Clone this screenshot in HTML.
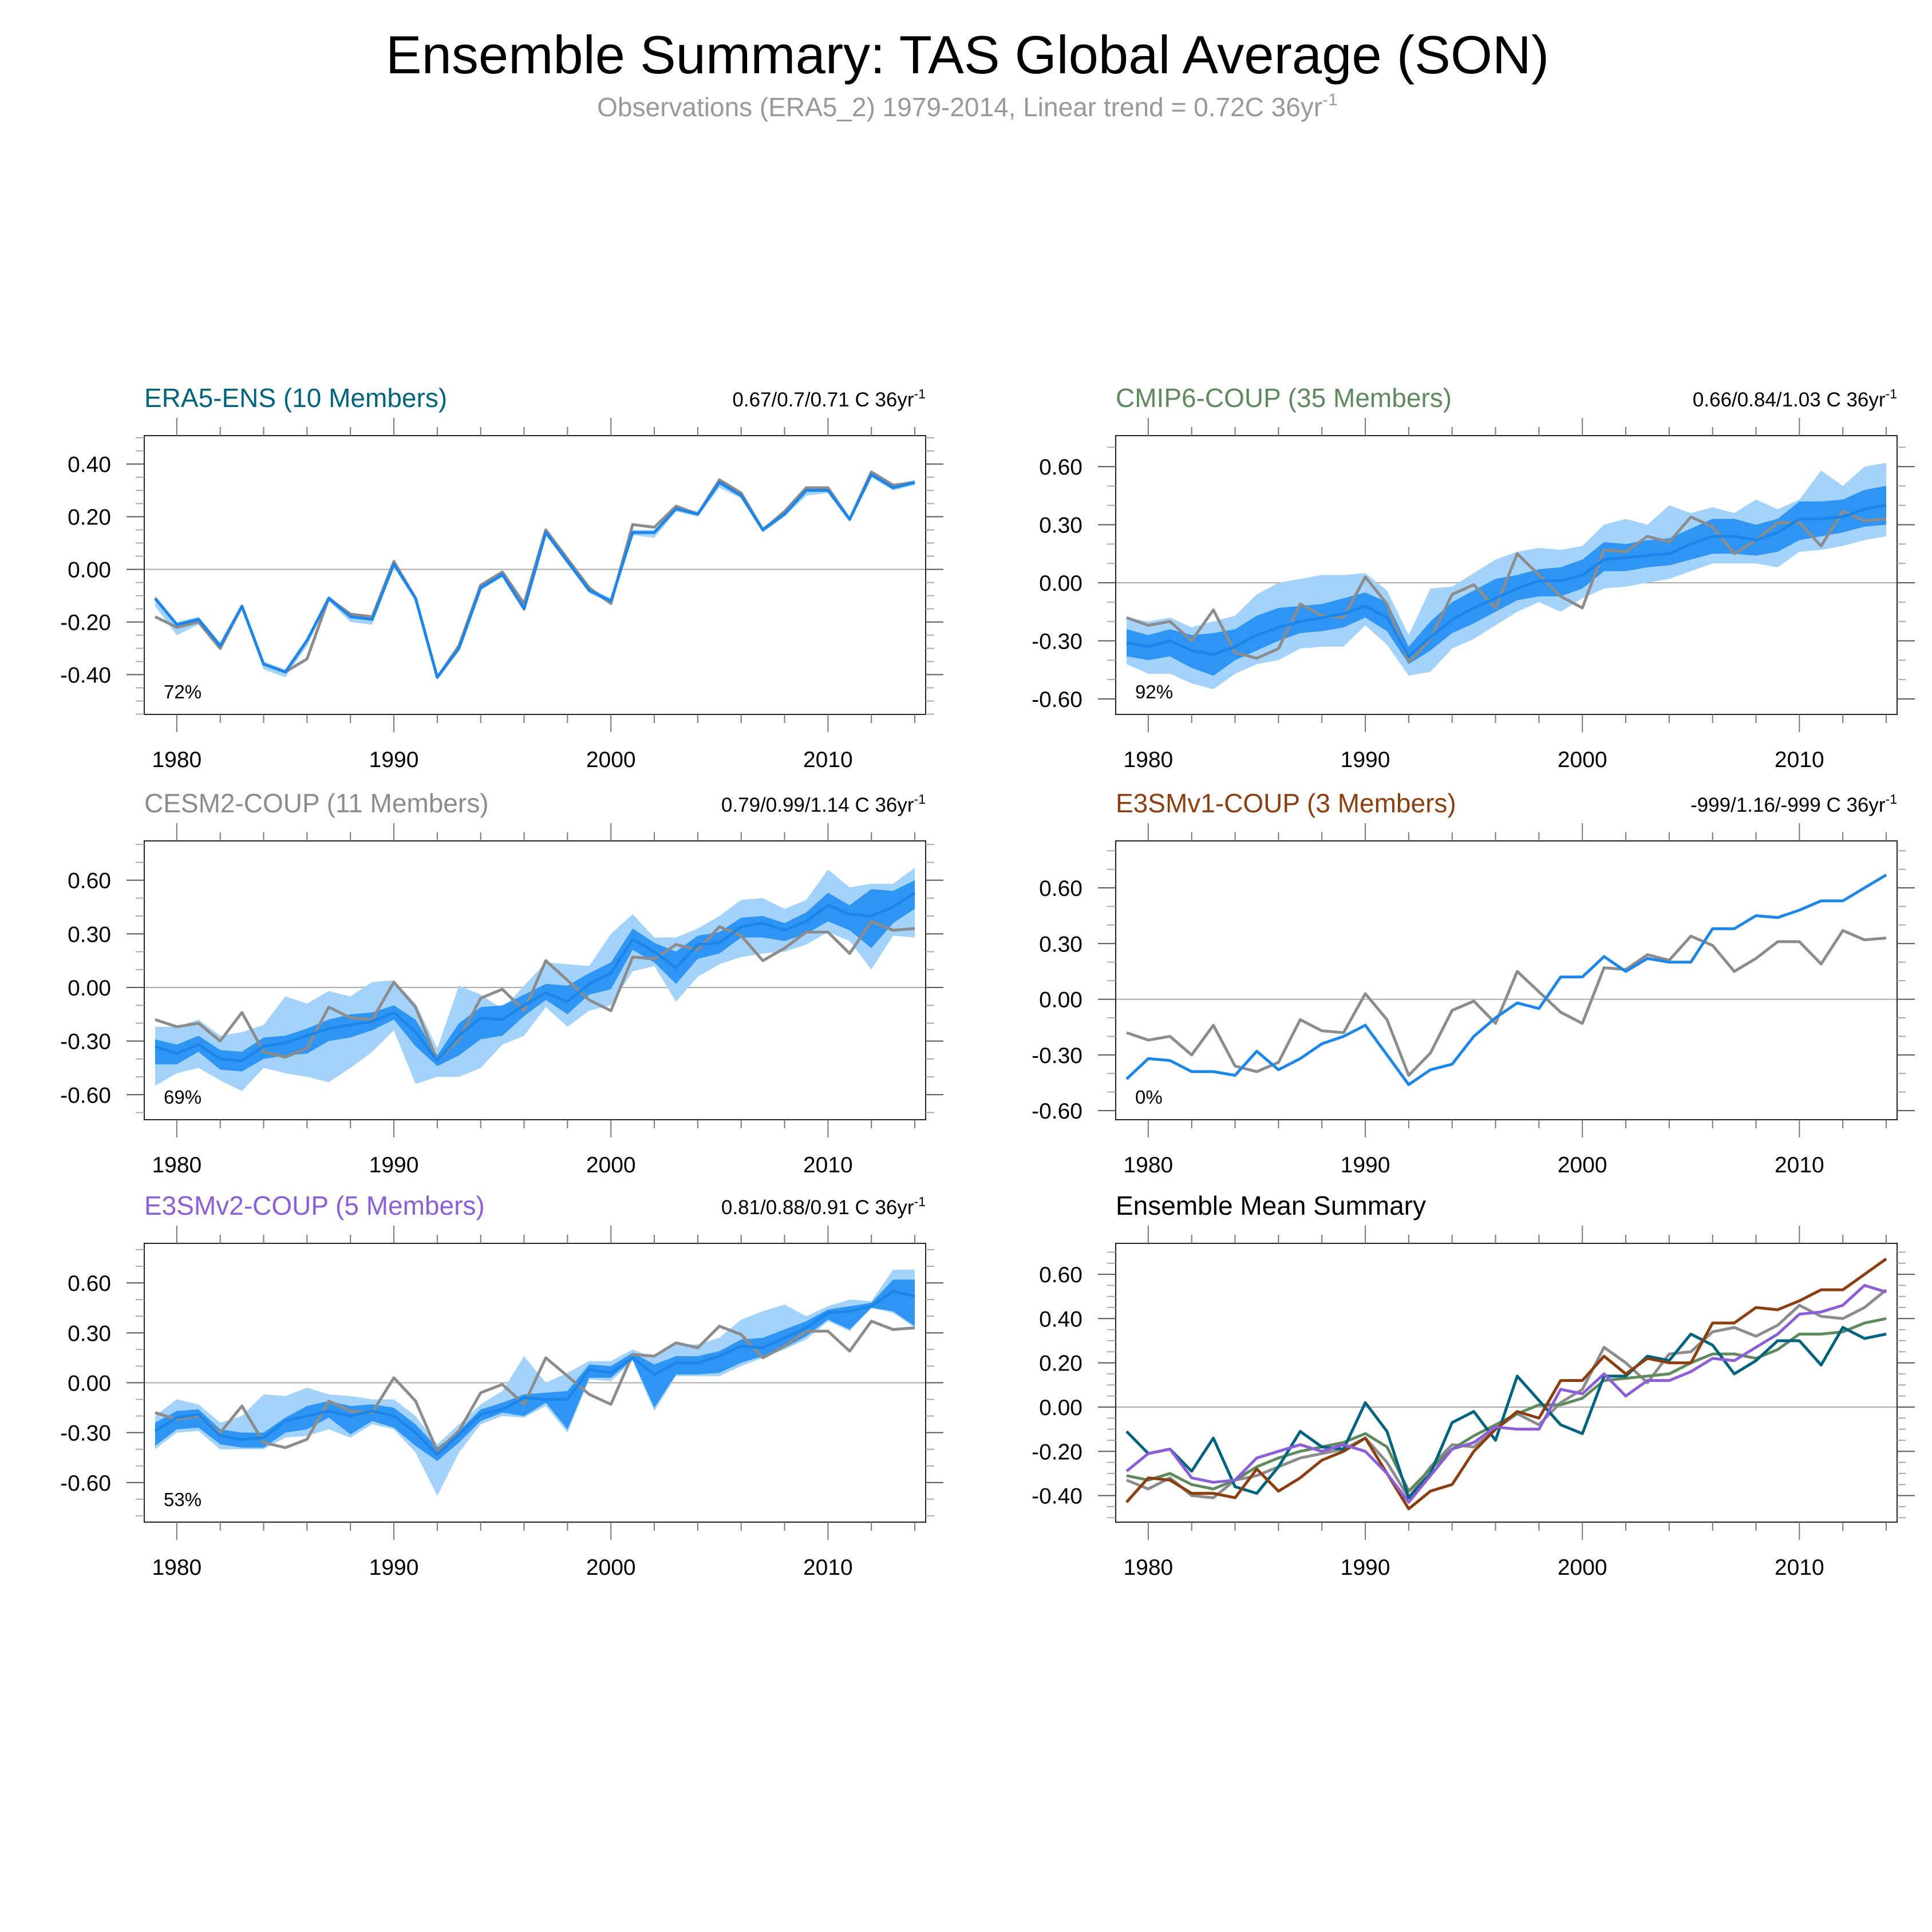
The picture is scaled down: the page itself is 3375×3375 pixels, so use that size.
<!DOCTYPE html>
<html><head><meta charset="utf-8"><style>
html,body{margin:0;padding:0;background:#fff;}
svg{display:block;font-family:"Liberation Sans",sans-serif;}
</style></head><body>
<svg id="chart" xmlns="http://www.w3.org/2000/svg" width="3375" height="3375" viewBox="0 0 3375 3375">
<rect x="0" y="0" width="3375" height="3375" fill="#fff"/>
<text x="1690" y="128" font-size="94" text-anchor="middle" fill="#000">Ensemble Summary: TAS Global Average (SON)</text>
<text x="1690" y="203" font-size="46" text-anchor="middle" fill="#999">Observations (ERA5_2) 1979-2014, Linear trend = 0.72C 36yr<tspan font-size="30" dy="-19">-1</tspan></text>
</svg>
<script>
const years=[1979,1980,1981,1982,1983,1984,1985,1986,1987,1988,1989,1990,1991,1992,1993,1994,1995,1996,1997,1998,1999,2000,2001,2002,2003,2004,2005,2006,2007,2008,2009,2010,2011,2012,2013,2014];
const yearLabels=[1980,1990,2000,2010];
const obs=[-0.18,-0.22,-0.20,-0.30,-0.14,-0.36,-0.39,-0.34,-0.11,-0.17,-0.18,0.03,-0.11,-0.41,-0.29,-0.06,-0.01,-0.13,0.15,0.04,-0.07,-0.13,0.17,0.16,0.24,0.21,0.34,0.29,0.15,0.22,0.31,0.31,0.19,0.37,0.32,0.33];
const era5Mean=[-0.11,-0.21,-0.19,-0.29,-0.14,-0.36,-0.39,-0.27,-0.11,-0.18,-0.19,0.02,-0.11,-0.41,-0.30,-0.07,-0.02,-0.15,0.14,0.03,-0.08,-0.12,0.14,0.14,0.23,0.21,0.33,0.28,0.15,0.21,0.30,0.30,0.19,0.36,0.31,0.33];
const era5Lo=[-0.14,-0.25,-0.21,-0.31,-0.15,-0.38,-0.41,-0.29,-0.12,-0.20,-0.21,0.01,-0.12,-0.42,-0.31,-0.08,-0.03,-0.16,0.13,0.02,-0.09,-0.13,0.13,0.12,0.22,0.20,0.31,0.27,0.14,0.20,0.28,0.29,0.18,0.35,0.30,0.32];
const era5Hi=[-0.10,-0.20,-0.18,-0.28,-0.13,-0.35,-0.38,-0.26,-0.10,-0.17,-0.18,0.03,-0.10,-0.40,-0.29,-0.06,-0.01,-0.14,0.15,0.04,-0.07,-0.11,0.15,0.15,0.24,0.22,0.34,0.29,0.16,0.22,0.31,0.31,0.20,0.37,0.32,0.34];
const cmipMean=[-0.31,-0.33,-0.30,-0.35,-0.37,-0.33,-0.27,-0.23,-0.20,-0.18,-0.16,-0.12,-0.18,-0.38,-0.28,-0.19,-0.13,-0.08,-0.03,0.01,0.01,0.04,0.12,0.13,0.14,0.15,0.20,0.24,0.24,0.22,0.26,0.33,0.33,0.34,0.38,0.40];
const cmipLightLo=[-0.42,-0.47,-0.47,-0.52,-0.55,-0.47,-0.42,-0.40,-0.34,-0.33,-0.33,-0.22,-0.32,-0.48,-0.46,-0.34,-0.29,-0.22,-0.15,-0.10,-0.15,-0.08,-0.03,-0.02,0.00,0.02,0.06,0.10,0.10,0.10,0.08,0.16,0.17,0.19,0.22,0.24];
const cmipLightHi=[-0.18,-0.20,-0.18,-0.23,-0.20,-0.17,-0.06,0.00,0.02,0.04,0.04,0.05,-0.04,-0.27,-0.03,-0.02,0.05,0.12,0.16,0.18,0.17,0.19,0.30,0.33,0.30,0.40,0.36,0.39,0.36,0.43,0.38,0.43,0.58,0.50,0.60,0.62];
const cmipDarkLo=[-0.38,-0.40,-0.38,-0.44,-0.48,-0.40,-0.35,-0.30,-0.26,-0.25,-0.23,-0.18,-0.25,-0.42,-0.35,-0.26,-0.21,-0.15,-0.09,-0.07,-0.07,-0.03,0.06,0.06,0.08,0.09,0.12,0.15,0.15,0.14,0.16,0.22,0.24,0.26,0.29,0.30];
const cmipDarkHi=[-0.24,-0.27,-0.24,-0.27,-0.26,-0.24,-0.17,-0.13,-0.12,-0.11,-0.08,-0.05,-0.10,-0.33,-0.20,-0.10,-0.04,0.02,0.04,0.07,0.08,0.12,0.21,0.20,0.22,0.23,0.28,0.33,0.33,0.30,0.33,0.42,0.42,0.43,0.48,0.50];
const cesmMean=[-0.33,-0.37,-0.32,-0.40,-0.41,-0.33,-0.31,-0.27,-0.23,-0.21,-0.19,-0.14,-0.25,-0.41,-0.27,-0.17,-0.18,-0.10,-0.03,-0.08,0.02,0.08,0.27,0.20,0.11,0.24,0.25,0.34,0.36,0.32,0.37,0.46,0.41,0.40,0.45,0.53];
const cesmLightLo=[-0.55,-0.48,-0.45,-0.52,-0.58,-0.45,-0.48,-0.50,-0.53,-0.45,-0.36,-0.24,-0.54,-0.50,-0.50,-0.45,-0.32,-0.27,-0.11,-0.22,-0.13,-0.10,0.09,0.12,-0.08,0.06,0.13,0.17,0.19,0.20,0.24,0.31,0.26,0.10,0.29,0.28];
const cesmLightHi=[-0.22,-0.22,-0.18,-0.27,-0.25,-0.21,-0.05,-0.09,-0.02,-0.05,0.03,0.04,-0.09,-0.34,0.01,-0.04,-0.12,0.01,0.14,0.13,0.12,0.30,0.41,0.28,0.28,0.33,0.40,0.49,0.50,0.44,0.49,0.66,0.56,0.58,0.58,0.67];
const cesmDarkLo=[-0.43,-0.43,-0.36,-0.46,-0.47,-0.40,-0.38,-0.37,-0.30,-0.28,-0.24,-0.18,-0.33,-0.44,-0.38,-0.29,-0.27,-0.16,-0.07,-0.15,-0.04,-0.01,0.21,0.14,0.02,0.16,0.19,0.28,0.28,0.26,0.30,0.37,0.32,0.22,0.36,0.44];
const cesmDarkHi=[-0.29,-0.32,-0.27,-0.35,-0.36,-0.28,-0.27,-0.23,-0.18,-0.15,-0.14,-0.10,-0.18,-0.38,-0.20,-0.11,-0.10,-0.04,0.02,0.01,0.08,0.14,0.33,0.25,0.20,0.29,0.31,0.39,0.40,0.36,0.42,0.53,0.46,0.55,0.54,0.60];
const v1Mean=[-0.43,-0.32,-0.33,-0.39,-0.39,-0.41,-0.28,-0.38,-0.32,-0.24,-0.20,-0.14,-0.30,-0.46,-0.38,-0.35,-0.20,-0.10,-0.02,-0.05,0.12,0.12,0.23,0.15,0.22,0.20,0.20,0.38,0.38,0.45,0.44,0.48,0.53,0.53,0.60,0.67];
const v2Mean=[-0.29,-0.21,-0.19,-0.32,-0.34,-0.33,-0.23,-0.20,-0.17,-0.20,-0.17,-0.20,-0.30,-0.43,-0.31,-0.19,-0.16,-0.09,-0.10,-0.10,0.08,0.06,0.15,0.05,0.12,0.12,0.16,0.22,0.21,0.27,0.33,0.42,0.43,0.46,0.55,0.52];
const v2LightLo=[-0.40,-0.30,-0.29,-0.40,-0.40,-0.40,-0.33,-0.32,-0.28,-0.33,-0.25,-0.28,-0.42,-0.68,-0.42,-0.25,-0.20,-0.21,-0.14,-0.30,0.02,0.01,0.13,-0.17,0.04,0.04,0.04,0.10,0.15,0.20,0.26,0.37,0.31,0.45,0.42,0.33];
const v2LightHi=[-0.20,-0.10,-0.13,-0.24,-0.20,-0.07,-0.08,-0.03,-0.07,-0.08,-0.10,-0.10,-0.20,-0.37,-0.25,-0.13,-0.05,0.16,0.00,0.06,0.13,0.13,0.20,0.15,0.23,0.23,0.27,0.38,0.43,0.47,0.40,0.46,0.50,0.49,0.68,0.68];
const v2DarkLo=[-0.38,-0.28,-0.27,-0.37,-0.39,-0.39,-0.30,-0.28,-0.21,-0.31,-0.23,-0.27,-0.38,-0.47,-0.36,-0.23,-0.18,-0.20,-0.12,-0.28,0.03,0.03,0.14,-0.15,0.05,0.05,0.06,0.12,0.16,0.21,0.28,0.38,0.32,0.45,0.43,0.34];
const v2DarkHi=[-0.24,-0.17,-0.16,-0.28,-0.30,-0.30,-0.21,-0.14,-0.11,-0.14,-0.13,-0.15,-0.25,-0.39,-0.29,-0.16,-0.12,-0.07,-0.06,-0.05,0.11,0.10,0.18,0.11,0.16,0.16,0.19,0.26,0.27,0.32,0.37,0.44,0.46,0.48,0.62,0.62];
const ticksA=[-0.4,-0.2,0,0.2,0.4];
const ticksB=[-0.6,-0.3,0,0.3,0.6];
const ticksC=[-0.4,-0.2,0,0.2,0.4,0.6];

const NS="http://www.w3.org/2000/svg";
const svg=document.getElementById('chart');
function mk(tag,attrs,parent){const e=document.createElementNS(NS,tag);for(const k in attrs)e.setAttribute(k,attrs[k]);(parent||svg).appendChild(e);return e;}
const LIGHT="#a3d2fb",DARK="#2f95f5",BLUE="#1d86ea",GRAY="#8c8c8c";

function panel(p){
  const g=mk('g',{});
  
  
  const x0=p.x,x1=p.x+1365,y0=p.y,y1=p.y+487;
  const sx=v=>x0+(v-1978.5)/36*(x1-x0);
  const sy=v=>y1-(v-p.ymin)/(p.ymax-p.ymin)*(y1-y0);
  const z=mk('line',{x1:x0,x2:x1,y1:sy(0),y2:sy(0),stroke:'#aaa','stroke-width':2},g);
  
  
  function band(lo,hi,col,nm){
    let pts=[];
    for(let i=0;i<years.length;i++)pts.push(sx(years[i])+','+sy(hi[i]));
    for(let i=years.length-1;i>=0;i--)pts.push(sx(years[i])+','+sy(lo[i]));
    const b=mk('polygon',{points:pts.join(' '),fill:col},g);
    
    
  }
  function line(vals,col,nm,w){
    const pts=years.map((yr,i)=>sx(yr)+','+sy(vals[i])).join(' ');
    const l=mk('polyline',{points:pts,fill:'none',stroke:col,'stroke-width':w||5,'stroke-linejoin':'round'},g);
    
    
  }
  if(p.light)band(p.light[0],p.light[1],LIGHT,p.name+'-range-band');
  if(p.dark)band(p.dark[0],p.dark[1],DARK,p.name+'-spread-band');
  if(p.obs)line(obs,GRAY,p.name+'-observation-line');
  if(p.mean)line(p.mean,BLUE,p.name+'-ensemble-mean-line');
  if(p.lines)p.lines.forEach(s=>line(s.v,s.c,s.n));
  const fr=mk('rect',{x:x0,y:y0,width:x1-x0,height:y1-y0,fill:'none',stroke:'#222','stroke-width':2},g);
  
  
  for(let yr=1980;yr<=2014;yr+=2){
    const major=yr%10===0, L=major?31:15, X=sx(yr);
    const t1=mk('line',{x1:X,x2:X,y1:y0,y2:y0-L,stroke:'#777','stroke-width':2},g);
    
    
    const t2=mk('line',{x1:X,x2:X,y1:y1,y2:y1+L,stroke:'#777','stroke-width':2},g);
    
    
  }
  yearLabels.forEach(yr=>{
    const t=mk('text',{x:sx(yr),y:y1+92,'font-size':39,'text-anchor':'middle',fill:'#000'},g);
    t.textContent=yr;
    
    
  });
  for(let k=Math.ceil(p.ymin/p.minor-1e-6);k*p.minor<=p.ymax+1e-9;k++){
    const v=k*p.minor, Y=sy(v);
    const major=p.ticks.some(t=>Math.abs(t-v)<1e-6), L=major?31:15;
    const c=major?'#555':'#aaa';
    const a=mk('line',{x1:x0,x2:x0-L,y1:Y,y2:Y,stroke:c,'stroke-width':2},g);
    
    
    const b=mk('line',{x1:x1,x2:x1+L,y1:Y,y2:Y,stroke:c,'stroke-width':2},g);
    
    
  }
  p.ticks.forEach(v=>{
    const t=mk('text',{x:x0-58,y:sy(v)+14,'font-size':39,'text-anchor':'end',fill:'#000'},g);
    t.textContent=v.toFixed(2);
    
    
  });
  const ti=mk('text',{x:x0,y:y0-50,'font-size':46,fill:p.tcol},g);
  ti.textContent=p.title;
  
  
  if(p.trend){
    const tr=mk('text',{x:x1,y:y0-51,'font-size':35,'text-anchor':'end',fill:'#000'},g);
    tr.innerHTML=p.trend+' C 36yr<tspan font-size="23" dy="-14">-1</tspan>';
    
    
  }
  if(p.pct){
    const pc=mk('text',{x:x0+34,y:y1-28,'font-size':33,fill:'#000'},g);
    pc.textContent=p.pct;
    
    
  }
}
const C1=252,C2=1949,R1=761,R2=1469,R3=2172;
panel({name:'era5-ens',x:C1,y:R1,ymin:-0.551,ymax:0.508,ticks:ticksA,minor:0.05,title:'ERA5-ENS (10 Members)',tcol:'#00647f',trend:'0.67/0.7/0.71',pct:'72%',light:[era5Lo,era5Hi],obs:true,mean:era5Mean});
panel({name:'cmip6-coup',x:C2,y:R1,ymin:-0.68,ymax:0.76,ticks:ticksB,minor:0.1,title:'CMIP6-COUP (35 Members)',tcol:'#5e8a5e',trend:'0.66/0.84/1.03',pct:'92%',light:[cmipLightLo,cmipLightHi],dark:[cmipDarkLo,cmipDarkHi],obs:true,mean:cmipMean});
panel({name:'cesm2-coup',x:C1,y:R2,ymin:-0.74,ymax:0.82,ticks:ticksB,minor:0.1,title:'CESM2-COUP (11 Members)',tcol:'#8c8c8c',trend:'0.79/0.99/1.14',pct:'69%',light:[cesmLightLo,cesmLightHi],dark:[cesmDarkLo,cesmDarkHi],obs:true,mean:cesmMean});
panel({name:'e3smv1-coup',x:C2,y:R2,ymin:-0.649,ymax:0.853,ticks:ticksB,minor:0.1,title:'E3SMv1-COUP (3 Members)',tcol:'#8b3f10',trend:'-999/1.16/-999',pct:'0%',obs:true,mean:v1Mean});
panel({name:'e3smv2-coup',x:C1,y:R3,ymin:-0.838,ymax:0.838,ticks:ticksB,minor:0.1,title:'E3SMv2-COUP (5 Members)',tcol:'#8c5fd8',trend:'0.81/0.88/0.91',pct:'53%',light:[v2LightLo,v2LightHi],dark:[v2DarkLo,v2DarkHi],obs:true,mean:v2Mean});
panel({name:'ensemble-mean-summary',x:C2,y:R3,ymin:-0.52,ymax:0.74,ticks:ticksC,minor:0.05,title:'Ensemble Mean Summary',tcol:'#000',
  lines:[{v:cesmMean,c:'#8c8c8c',n:'cesm2-mean-line'},{v:cmipMean,c:'#5e8a5e',n:'cmip6-mean-line'},{v:era5Mean,c:'#006480',n:'era5-mean-line'},{v:v1Mean,c:'#8b3f10',n:'e3smv1-mean-line'},{v:v2Mean,c:'#8c5fd8',n:'e3smv2-mean-line'}]});
</script>
</body></html>
